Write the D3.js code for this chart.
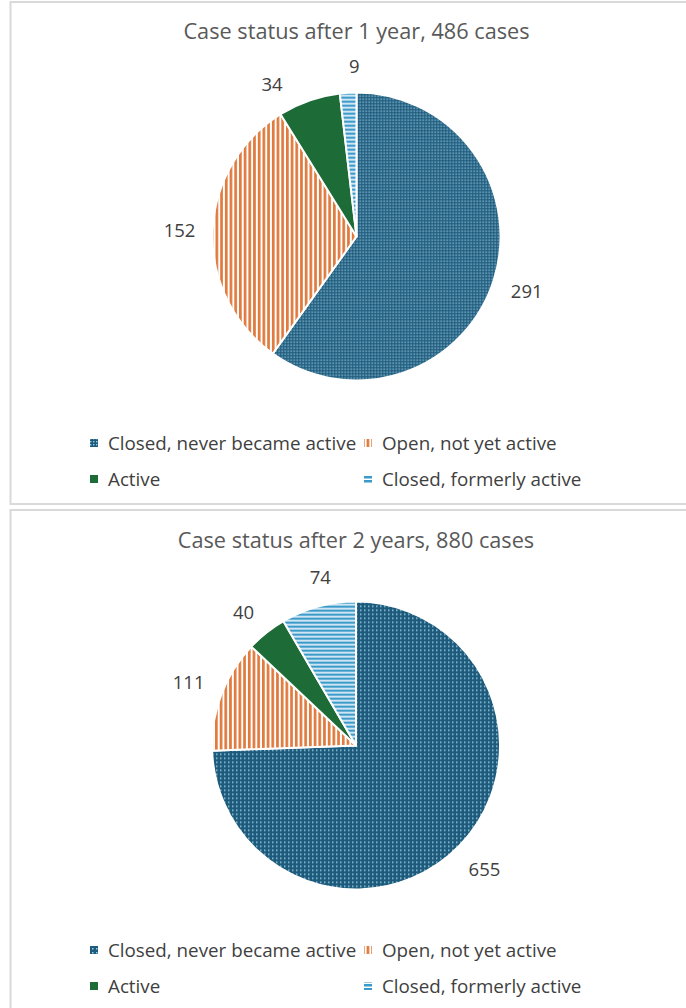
<!DOCTYPE html>
<html>
<head>
<meta charset="utf-8">
<script src="https://cdn.jsdelivr.net/npm/d3@7"></script>
<style>
  html, body { margin: 0; padding: 0; background: #ffffff; }
  svg { display: block; }
</style>
</head>
<body>
<svg id="chart" width="686" height="1008"></svg>
<script>
// ---- data ----
const categories = ["Closed, never became active", "Open, not yet active", "Active", "Closed, formerly active"];
const year1Values = [291, 152, 34, 9];
const year2Values = [655, 111, 40, 74];
const chartTitles = ["Case status after 1 year, 486 cases", "Case status after 2 years, 880 cases"];

// ---- styles ----
const FONT = "'Open Sans', Roboto, 'Liberation Sans', sans-serif";
const svg = d3.select("#chart");
const defs = svg.append("defs");

function dotPattern(id, size, dot) {
  const p = defs.append("pattern").attr("id", id).attr("patternUnits", "userSpaceOnUse")
    .attr("width", size).attr("height", size);
  p.append("rect").attr("width", size).attr("height", size).attr("fill", "#1d5a7b");
  p.append("rect").attr("x", 0).attr("y", 0).attr("width", dot).attr("height", dot).attr("fill", "#9ccde4");
}
dotPattern("pBlue1", 3, 1.4);
dotPattern("pBlue2", 4, 1.5);
{
  const p = defs.append("pattern").attr("id", "pOrange").attr("patternUnits", "userSpaceOnUse")
    .attr("width", 4.7).attr("height", 10);
  p.append("rect").attr("width", 4.7).attr("height", 10).attr("fill", "#ffffff");
  p.append("rect").attr("x", 0).attr("width", 2.7).attr("height", 10).attr("fill", "#e07a3e");
}
{
  const p = defs.append("pattern").attr("id", "pLight").attr("patternUnits", "userSpaceOnUse")
    .attr("width", 10).attr("height", 4);
  p.append("rect").attr("width", 10).attr("height", 4).attr("fill", "#ffffff");
  p.append("rect").attr("y", 0).attr("width", 10).attr("height", 2.5).attr("fill", "#3c9acb");
}

const fills1 = ["url(#pBlue1)", "url(#pOrange)", "#1d6b36", "url(#pLight)"];
const fills2 = ["url(#pBlue2)", "url(#pOrange)", "#1d6b36", "url(#pLight)"];

const panels = [
  { y0: 2, y1: 504, cx: 356.5, cy: 236.5, titleY: 31, legY: [443, 479], values: year1Values, fills: fills1 },
  { y0: 510, y1: 1020, cx: 356, cy: 745.5, titleY: 540, legY: [950, 986], values: year2Values, fills: fills2 }
];
const R = 144;

panels.forEach((pn, idx) => {
  svg.append("rect").attr("x", 10.5).attr("y", pn.y0).attr("width", 700).attr("height", pn.y1 - pn.y0)
    .attr("fill", "#ffffff").attr("stroke", "#d9d9d9").attr("stroke-width", 2);

  svg.append("text").attr("x", pn.cx).attr("y", pn.titleY).attr("dy", "0.35em")
    .attr("text-anchor", "middle").attr("font-family", FONT).attr("font-size", 21.7)
    .attr("fill", "#595959").text(chartTitles[idx]);

  const data = categories.map((c, i) => ({ cat: c, value: pn.values[i], i }));
  const pie = d3.pie().value(d => d.value).sort(null);
  const arcs = pie(data);
  const arc = d3.arc().innerRadius(0).outerRadius(R);
  const g = svg.append("g").attr("transform", `translate(${pn.cx},${pn.cy})`);
  g.selectAll("path").data(arcs).join("path")
    .attr("d", arc).attr("fill", d => pn.fills[d.data.i])
    .attr("stroke", "#ffffff").attr("stroke-width", 2).attr("stroke-linejoin", "round");

  const fs = 18.5;
  const labs = arcs.map(a => {
    const txt = String(a.data.value);
    const w = txt.length * fs * 0.57, h = fs * 0.95;
    return { a: a, v: a.data.value, txt, w, h, ang: (a.startAngle + a.endAngle) / 2 };
  });
  function place(l) {
    const sx = Math.sin(l.ang), sy = -Math.cos(l.ang);
    const ext = Math.abs(sx) * l.w / 2 + Math.abs(sy) * l.h / 2;
    const r = R + 17 + ext;
    l.x = sx * r; l.y = sy * r;
  }
  labs.forEach(place);
  const minDist = 84;
  for (let it = 0; it < 400; it++) {
    let moved = false;
    for (let k = 0; k < labs.length; k++) {
      const A = labs[k], B = labs[(k + 1) % labs.length];
      const d = Math.hypot(A.x - B.x, A.y - B.y);
      if (d < minDist) {
        const step = 0.004, tot = A.v + B.v;
        A.ang -= step * A.v / tot; B.ang += step * B.v / tot;
        place(A); place(B);
        moved = true;
      }
    }
    if (!moved) break;
  }
  g.selectAll("text.lab").data(labs).join("text").attr("class", "lab")
    .attr("x", d => d.x).attr("y", d => d.y).attr("dy", "0.35em")
    .attr("text-anchor", "middle").attr("font-family", FONT).attr("font-size", fs)
    .attr("fill", "#404040").text(d => d.txt);

  const legX = [94, 368];
  const leg = svg.append("g");
  categories.forEach((c, i) => {
    const row = i < 2 ? 0 : 1;
    const col = i % 2;
    const x = legX[col], y = pn.legY[row];
    leg.append("rect").attr("x", x - 4).attr("y", y - 4).attr("width", 8).attr("height", 8)
      .attr("fill", pn.fills[i]);
    leg.append("text").attr("x", x + 14).attr("y", y).attr("dy", "0.35em")
      .attr("font-family", FONT).attr("font-size", 18.8).attr("fill", "#404040").text(c);
  });
});
</script>
</body>
</html>
